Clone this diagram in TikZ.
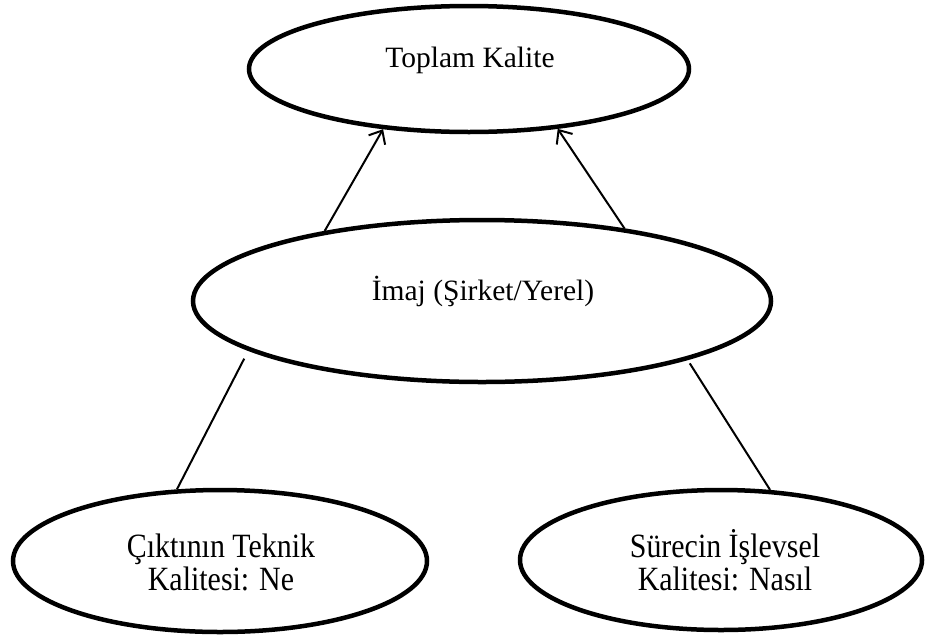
\documentclass[tikz,border=0pt]{standalone}
\usepackage{fontspec}
\setmainfont{Liberation Serif}
\newfontfamily\tallserif[FakeStretch=0.88]{Liberation Serif}
\usetikzlibrary{shapes.geometric,arrows.meta}
\begin{document}
\begin{tikzpicture}[x=1pt,y=-1pt,
  oval/.style={ellipse, draw=black, line width=4.5pt, inner sep=0pt},
  caption/.style={font=\fontsize{29.5}{33}\selectfont, inner sep=0pt, anchor=base},
  subcaption/.style={font=\tallserif\fontsize{34}{33}\selectfont, align=center, inner sep=0pt},
  link/.style={line width=2pt},
  uplink/.style={link, -{Straight Barb[length=11pt,width=19pt]}}]

  % page area
  \fill[white] (0,0) rectangle (925,643);
  \useasboundingbox (0,0) rectangle (925,643);

  % the four ovals
  \node[oval, minimum width=440pt, minimum height=126pt] (top)   at (469,69)  {};
  \node[oval, minimum width=578pt, minimum height=162pt] (mid)   at (482,301) {};
  \node[oval, minimum width=414pt, minimum height=142pt] (left)  at (220,561) {};
  \node[oval, minimum width=402pt, minimum height=140pt] (right) at (721,560) {};

  % their texts
  \node[caption] (toptext) at (470,67)  {Toplam Kalite};
  \node[caption] (midtext) at (483,300) {İmaj (Şirket/Yerel)};
  \node[subcaption] (lefttext)  at (221,562) {Çıktının Teknik\\Kalitesi: Ne};
  \node[subcaption] (righttext) at (725,560) {Sürecin İşlevsel\\Kalitesi: Nasıl};

  % connectors
  \draw[uplink] (mid.156.7) -- (top.215.5);
  \draw[uplink] (mid.27.9)  -- (top.326.7);
  \draw[link, shorten <=9pt] (mid.192.7) -- (left.121.6);
  \draw[link, shorten <=4pt] (mid.344.1) -- (right.55.8);
\end{tikzpicture}
\end{document}
